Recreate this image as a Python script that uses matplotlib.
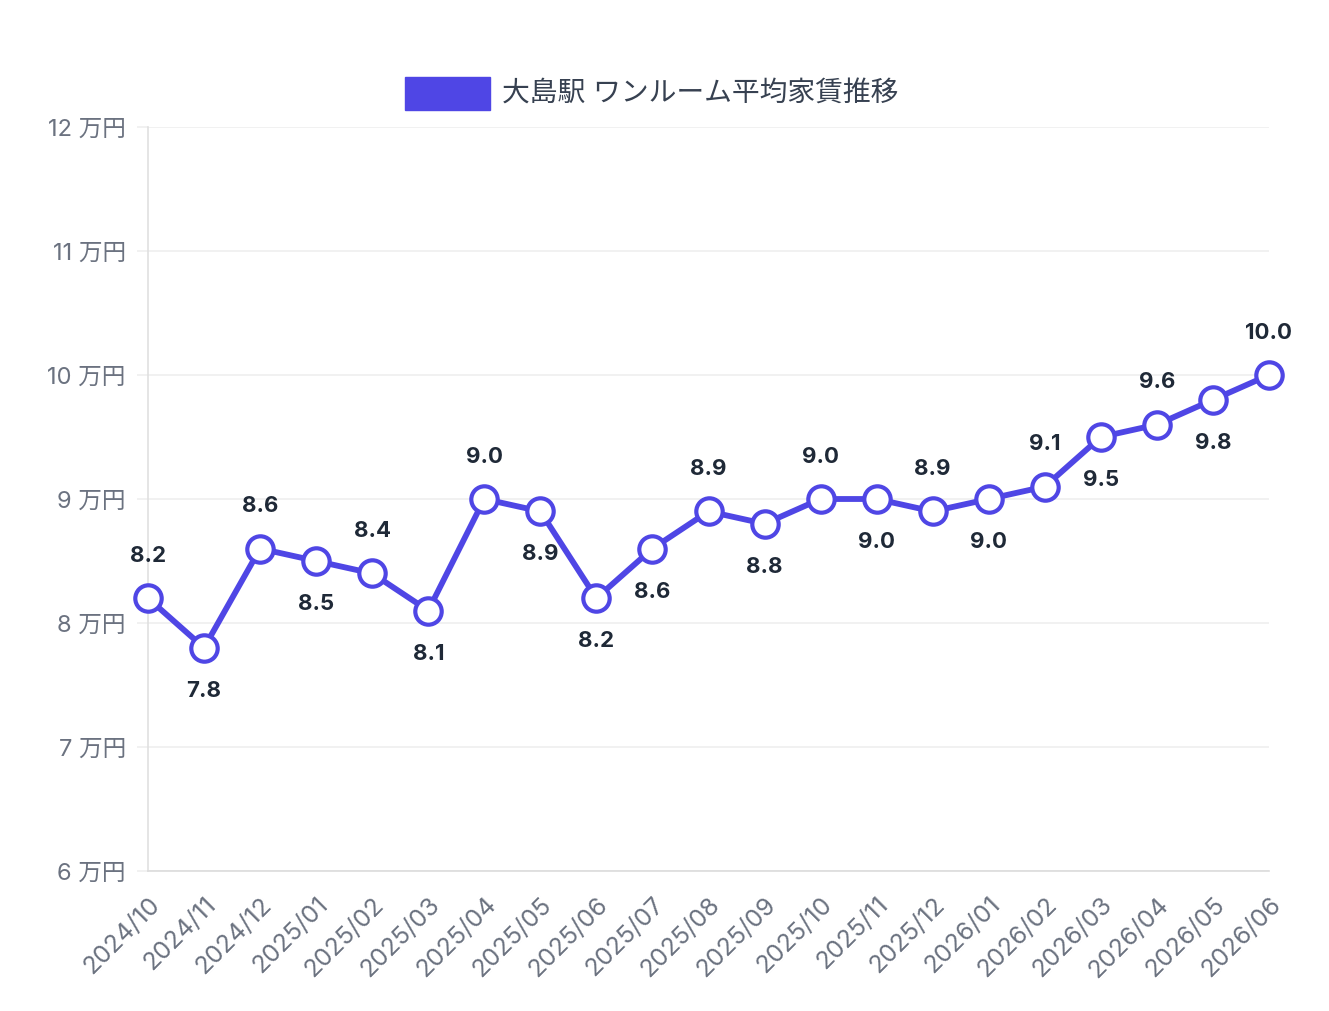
#!/usr/bin/env python3
"""Oshima station one-room average rent trend (line chart)."""

import matplotlib
matplotlib.use("Agg")
import matplotlib.pyplot as plt
from matplotlib.patches import Rectangle

months = [
    "2024/10", "2024/11", "2024/12", "2025/01", "2025/02", "2025/03", "2025/04",
    "2025/05", "2025/06", "2025/07", "2025/08", "2025/09", "2025/10", "2025/11",
    "2025/12", "2026/01", "2026/02", "2026/03", "2026/04", "2026/05", "2026/06",
]
rent = [8.2, 7.8, 8.6, 8.5, 8.4, 8.1, 9.0, 8.9, 8.2, 8.6, 8.9,
        8.8, 9.0, 9.0, 8.9, 9.0, 9.1, 9.5, 9.6, 9.8, 10.0]
label_above = [True, False, True, False, True, False, True, False, False, False, True,
               False, True, False, True, False, True, False, True, False, True]
y_ticks = [6, 7, 8, 9, 10, 11, 12]
legend_label = "大島駅 ワンルーム平均家賃推移"

LINE = "#4f46e5"
TICK = "#6b7280"
GRID = "#efefef"
FONTS = ["Inter", "Noto Sans CJK JP", "DejaVu Sans"]

plt.rcParams["font.family"] = FONTS

W, H = 1329, 1011
fig = plt.figure(figsize=(W / 100, H / 100), dpi=100)
ax = fig.add_axes([148 / W, (H - 871) / H, (1269 - 148) / W, (871 - 127) / H])

x = list(range(len(months)))
ax.plot(x, rent, color=LINE, linewidth=4.2, zorder=3, clip_on=False)
ax.plot(x, rent, linestyle="none", marker="o", markersize=19,
        markerfacecolor="white", markeredgecolor=LINE, markeredgewidth=3,
        zorder=4, clip_on=False)

for xi, v, up in zip(x, rent, label_above):
    ax.annotate(f"{v:.1f}", (xi, v), xytext=(0, 30.5 if up else -31),
                textcoords="offset points", ha="center", va="center",
                fontsize=16, fontweight="bold", color="#1f2937", zorder=5)

ax.set_xlim(0, len(months) - 1)
ax.set_ylim(6, 12)
ax.set_yticks(y_ticks)
ax.set_yticklabels([f"{t} 万円" for t in y_ticks])
ax.set_xticks(x)
ax.set_xticklabels(months, rotation=45, ha="right", va="top", rotation_mode="anchor")

ax.grid(axis="y", color=GRID, linewidth=1.2)
ax.grid(axis="x", visible=False)
ax.set_axisbelow(True)
for side in ("top", "right"):
    ax.spines[side].set_visible(False)
ax.spines["left"].set_color("#e0e0e0")
ax.spines["left"].set_linewidth(1.2)
ax.spines["bottom"].set_color("#dcdcdc")
ax.spines["bottom"].set_linewidth(1.2)
ax.tick_params(axis="y", colors=GRID, length=8, width=1.2, pad=8, labelsize=17, labelcolor=TICK)
ax.tick_params(axis="x", length=0, pad=16, labelsize=18, labelcolor=TICK)

# legend drawn like chart.js: coloured box + label above the plot
fig.patches.append(Rectangle((405 / W, (H - 110) / H), 85 / W, 33 / H,
                             transform=fig.transFigure, facecolor=LINE,
                             edgecolor=LINE, linewidth=1))
fig.text(502 / W, (H - 95) / H, legend_label, ha="left", va="center",
         fontsize=20, color="#374151")

fig.savefig("out.png", dpi=100, facecolor="white")
